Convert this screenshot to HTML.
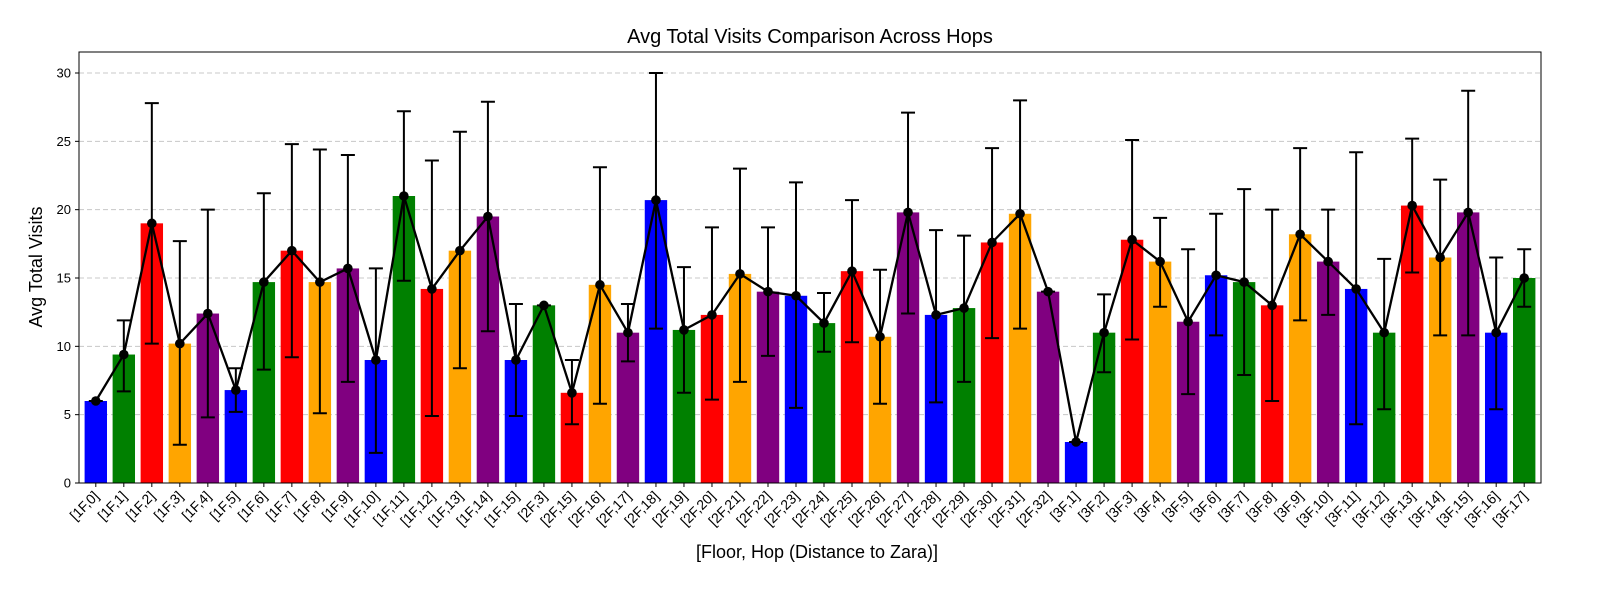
<!DOCTYPE html>
<html><head><meta charset="utf-8">
<style>
html,body{margin:0;padding:0;background:#fff;}
svg{display:block;font-family:"Liberation Sans","DejaVu Sans",sans-serif;}
</style></head>
<body>
<svg id="chart" width="1600" height="600" xmlns="http://www.w3.org/2000/svg">
<rect width="1600" height="600" fill="#fff"/>
<text x="810" y="43" text-anchor="middle" font-size="20">Avg Total Visits Comparison Across Hops</text>
<g id="grid"></g><g id="bars"></g><g id="errs"></g><g id="line"></g><g id="axes"></g>
<text x="817" y="558" text-anchor="middle" font-size="18">[Floor, Hop (Distance to Zara)]</text>
<text transform="translate(42,267) rotate(-90)" text-anchor="middle" font-size="18">Avg Total Visits</text>
</svg>
<script>
const categories=["[1F,0]","[1F,1]","[1F,2]","[1F,3]","[1F,4]","[1F,5]","[1F,6]","[1F,7]","[1F,8]","[1F,9]","[1F,10]","[1F,11]","[1F,12]","[1F,13]","[1F,14]","[1F,15]","[2F,3]","[2F,15]","[2F,16]","[2F,17]","[2F,18]","[2F,19]","[2F,20]","[2F,21]","[2F,22]","[2F,23]","[2F,24]","[2F,25]","[2F,26]","[2F,27]","[2F,28]","[2F,29]","[2F,30]","[2F,31]","[2F,32]","[3F,1]","[3F,2]","[3F,3]","[3F,4]","[3F,5]","[3F,6]","[3F,7]","[3F,8]","[3F,9]","[3F,10]","[3F,11]","[3F,12]","[3F,13]","[3F,14]","[3F,15]","[3F,16]","[3F,17]"];
const means=[6,9.4,19,10.2,12.4,6.8,14.7,17,14.7,15.7,9,21,14.2,17,19.5,9,13,6.6,14.5,11,20.7,11.2,12.3,15.3,14,13.7,11.7,15.5,10.7,19.8,12.3,12.8,17.6,19.7,14,3,11,17.8,16.2,11.8,15.2,14.7,13,18.2,16.2,14.2,11,20.3,16.5,19.8,11,15];
const errLow=[6,6.7,10.2,2.8,4.8,5.2,8.3,9.2,5.1,7.4,2.2,14.8,4.9,8.4,11.1,4.9,13,4.3,5.8,8.9,11.3,6.6,6.1,7.4,9.3,5.5,9.6,10.3,5.8,12.4,5.9,7.4,10.6,11.3,14,3,8.1,10.5,12.9,6.5,10.8,7.9,6,11.9,12.3,4.3,5.4,15.4,10.8,10.8,5.4,12.9];
const errHigh=[6,11.9,27.8,17.7,20,8.4,21.2,24.8,24.4,24,15.7,27.2,23.6,25.7,27.9,13.1,13,9,23.1,13.1,30,15.8,18.7,23,18.7,22,13.9,20.7,15.6,27.1,18.5,18.1,24.5,28,14,3,13.8,25.1,19.4,17.1,19.7,21.5,20,24.5,20,24.2,16.4,25.2,22.2,28.7,16.5,17.1];
const yTicks=[0,5,10,15,20,25,30];
const colors=["#0000ff","#008000","#ff0000","#ffa500","#800080"];
const NS="http://www.w3.org/2000/svg";
const L=79,R=1541,T=52,B=483;
const step=(R-L)/(categories.length+0.2);
const xs=i=>L+step*(0.6+i);
const ys=v=>B-v*(B-73)/30;
function mk(tag,attrs,parent){const e=document.createElementNS(NS,tag);for(const k in attrs)e.setAttribute(k,attrs[k]);document.getElementById(parent).appendChild(e);return e;}
yTicks.forEach(t=>{
 const g=mk('line',{x1:L,x2:R,y1:ys(t),y2:ys(t),stroke:'#c8c8c8','stroke-dasharray':'5,3','stroke-width':1},'grid');
 
 
 const tk=mk('line',{x1:L-4,x2:L,y1:ys(t),y2:ys(t),stroke:'#000'},'axes');
 
 
 const tx=mk('text',{x:L-8,y:ys(t)+4.5,'text-anchor':'end','font-size':13},'axes');
 tx.textContent=t;
 
 
});
const bw=step*0.8;
let pts=[];
categories.forEach((c,i)=>{
 const x=xs(i);
 const b=mk('rect',{x:x-bw/2,y:ys(means[i]),width:bw,height:B-ys(means[i]),fill:colors[i%5]},'bars');
 
 
 const e=mk('path',{d:`M${x},${ys(errLow[i])}V${ys(errHigh[i])}M${x-7},${ys(errLow[i])}h14M${x-7},${ys(errHigh[i])}h14`,stroke:'#000','stroke-width':2,fill:'none'},'errs');
 
 
 pts.push(x+','+ys(means[i]));
 const tk=mk('line',{x1:x,x2:x,y1:B,y2:B+4,stroke:'#000'},'axes');
 
 
 const tx=mk('text',{transform:`translate(${x+4},${B+14}) rotate(-45)`,'text-anchor':'end','font-size':14},'axes');
 tx.textContent=c;
 
 
});
const pl=mk('polyline',{points:pts.join(' '),fill:'none',stroke:'#000','stroke-width':2.3},'line');


categories.forEach((c,i)=>{
 const d=mk('circle',{cx:xs(i),cy:ys(means[i]),r:4.8,fill:'#000'},'line');
 
 
});
const fr=mk('rect',{x:L,y:T,width:R-L,height:B-T,fill:'none',stroke:'#000','stroke-width':1},'axes');


</script>
</body></html>
